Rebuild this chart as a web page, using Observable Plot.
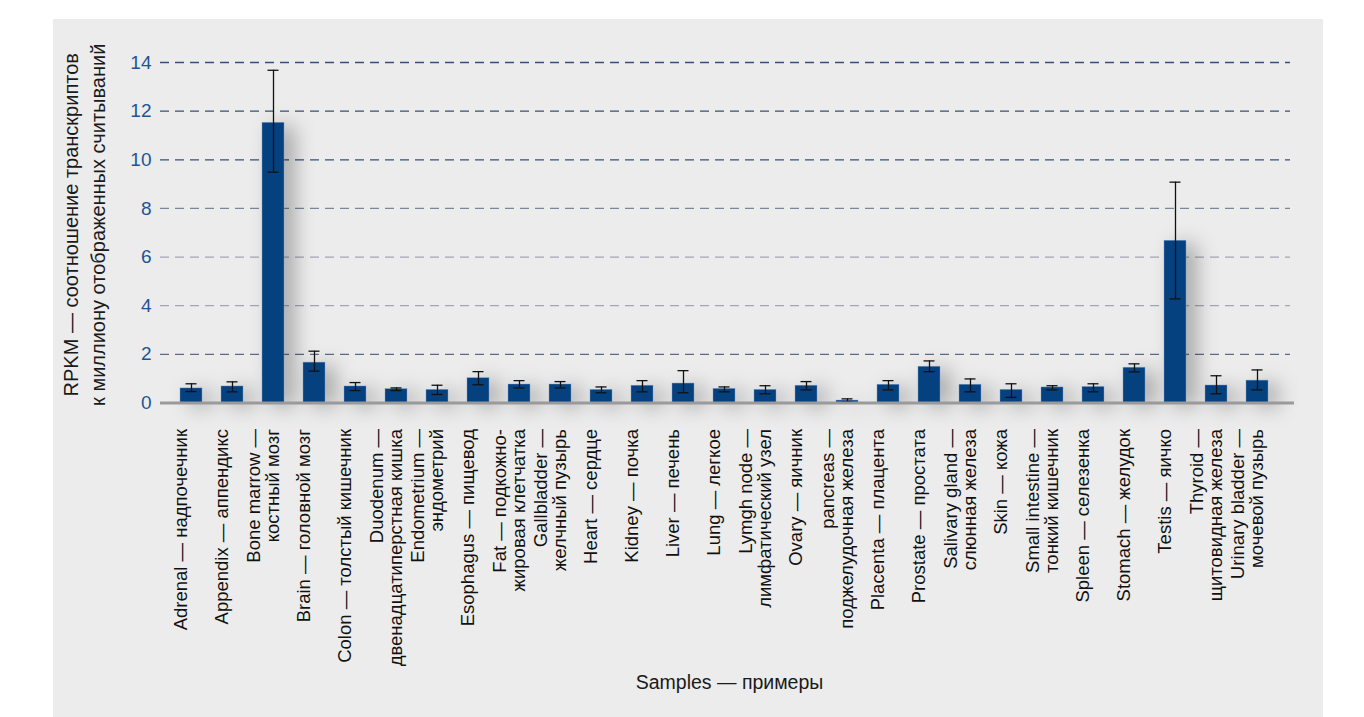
<!DOCTYPE html>
<html>
<head>
<meta charset="utf-8">
<script src="https://cdn.jsdelivr.net/npm/d3@7"></script>
<script src="https://cdn.jsdelivr.net/npm/@observablehq/plot@0.6"></script>
<style>
  html, body { margin: 0; padding: 0; background: #ffffff; }
  #wrap { position: relative; width: 1364px; height: 717px; overflow: hidden; }
  #panel { position: absolute; left: 53px; top: 19px; width: 1270px; height: 698px; background: #ececec; }
  #chart { position: absolute; left: 0; top: 0; }
</style>
</head>
<body>
<div id="wrap"><div id="panel"></div><div id="chart"></div></div>
<script>
// ---- data ----
const categories = [
  "Adrenal — надпочечник",
  "Appendix — аппендикс",
  "Bone marrow —\nкостный мозг",
  "Brain — головной мозг",
  "Colon — толстый кишечник",
  "Duodenum —\nдвенадцатиперстная кишка",
  "Endometrium —\nэндометрий",
  "Esophagus — пищевод",
  "Fat — подкожно-\nжировая клетчатка",
  "Gallbladder —\nжелчный пузырь",
  "Heart — сердце",
  "Kidney — почка",
  "Liver — печень",
  "Lung — легкое",
  "Lymgh node —\nлимфатический узел",
  "Ovary — яичник",
  "pancreas —\nподжелудочная железа",
  "Placenta — плацента",
  "Prostate — простата",
  "Salivary gland —\nслюнная железа",
  "Skin — кожа",
  "Small intestine —\nтонкий кишечник",
  "Spleen — селезенка",
  "Stomach — желудок",
  "Testis — яичко",
  "Thyroid —\nщитовидная железа",
  "Urinary bladder —\nмочевой пузырь"
];
const values = [0.60, 0.68, 11.52, 1.66, 0.68, 0.57, 0.54, 1.02, 0.76, 0.76, 0.54, 0.71, 0.80, 0.58,
                0.54, 0.71, 0.10, 0.75, 1.49, 0.75, 0.54, 0.64, 0.66, 1.45, 6.67, 0.72, 0.92];
const errLow  = [0.47, 0.46, 9.49, 1.31, 0.51, 0.51, 0.35, 0.75, 0.62, 0.62, 0.42, 0.46, 0.42, 0.46,
                 0.38, 0.54, 0.05, 0.54, 1.29, 0.46, 0.23, 0.54, 0.46, 1.28, 4.28, 0.38, 0.54];
const errHigh = [0.79, 0.87, 13.68, 2.13, 0.84, 0.62, 0.73, 1.29, 0.92, 0.88, 0.66, 0.92, 1.33, 0.66,
                 0.71, 0.88, 0.17, 0.92, 1.73, 0.99, 0.79, 0.71, 0.79, 1.61, 9.08, 1.12, 1.36];
const yTicks = [0, 2, 4, 6, 8, 10, 12, 14];
const gridValues = [2, 4, 6, 8, 10, 12, 14];
const yTitle = "RPKM — соотношение транскриптов\nк миллиону отображенных считываний";
const xTitle = "Samples — примеры";

const rows = categories.map((c, i) => ({cat: c, value: values[i], lo: errLow[i], hi: errHigh[i]}));

const gridColor = v => v >= 10 ? "#34507a" : v === 8 ? "#7d8699" : v === 2 ? "#5c6a86" : "#a2a6b1";

const FONT = "'Liberation Sans', Arial, Helvetica, sans-serif";

const chart = Plot.plot({
  width: 1364,
  height: 717,
  marginLeft: 160,
  marginRight: 76,
  marginTop: 62,
  marginBottom: 314.5,
  style: {background: "transparent", fontFamily: FONT, color: "#1a1a1a"},
  x: {domain: categories, paddingInner: 0.47, paddingOuter: 0.28, axis: null},
  y: {domain: [0, 14], axis: null},
  marks: [
    Plot.ruleY(gridValues, {stroke: d => gridColor(d), strokeWidth: 1.3, strokeDasharray: "9,6", insetRight: -2}),
    Plot.barY(rows, {x: "cat", y: "value", fill: "#06417f", stroke: "#7a9ccc", strokeWidth: 0.6, strokeOpacity: 0.7}),
    Plot.ruleX(rows, {x: "cat", y1: "lo", y2: "hi", stroke: "#111", strokeWidth: 1.3}),
    Plot.tickY(rows, {x: "cat", y: "hi", stroke: "#111", strokeWidth: 1.3, insetLeft: 5.5, insetRight: 5.5}),
    Plot.tickY(rows, {x: "cat", y: "lo", stroke: "#111", strokeWidth: 1.3, insetLeft: 5.5, insetRight: 5.5}),
    Plot.ruleY([0], {stroke: "#9a9a9a", strokeWidth: 3, insetRight: -6}),
    Plot.axisY(yTicks, {tickSize: 0, tickPadding: 9, fontSize: 19, fill: "#1d5594", label: null}),
    Plot.text(categories, {x: d => d, text: d => d, frameAnchor: "bottom", rotate: -90,
      textAnchor: "end", lineAnchor: "middle", dy: 26, dx: -10, fontSize: 18.5, fill: "#111", lineHeight: 1.0}),
    Plot.text([yTitle], {text: d => d, frameAnchor: "left", rotate: -90, textAnchor: "middle",
      lineAnchor: "bottom", dx: -56, dy: -8, fontSize: 20, lineHeight: 1.35, fill: "#1a1a1a"}),
    Plot.text([xTitle], {text: d => d, frameAnchor: "bottom", lineAnchor: "bottom", dy: 285.5, dx: 5,
      fontSize: 19.5, fill: "#1a1a1a"})
  ]
});
document.getElementById("chart").appendChild(chart);
// soft shadows like the reference
d3.select(chart).selectAll("g[aria-label='bar']").style("filter", "drop-shadow(10px 4px 10px rgba(0,0,0,0.3))");
</script>
</body>
</html>
